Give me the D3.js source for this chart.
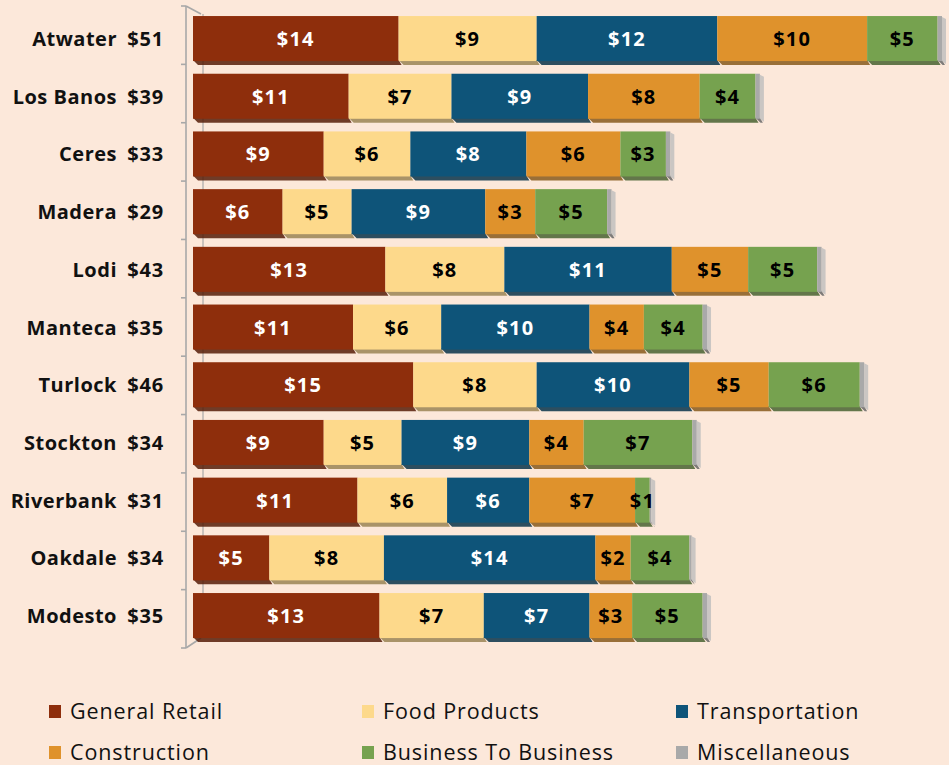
<!DOCTYPE html>
<html>
<head>
<meta charset="utf-8">
<script src="https://cdn.jsdelivr.net/npm/d3@7"></script>
<style>
  html, body { margin: 0; padding: 0; background: #FCE8DA; }
  svg { display: block; }
</style>
</head>
<body>
<svg id="chart" width="949" height="765"></svg>
<script>
const cities = ["Atwater","Los Banos","Ceres","Madera","Lodi","Manteca","Turlock","Stockton","Riverbank","Oakdale","Modesto"];
const totals = [51,39,33,29,43,35,46,34,31,34,35];
const seriesNames = ["General Retail","Food Products","Transportation","Construction","Business To Business","Miscellaneous"];
const generalRetail  = [14.0,10.6,8.9,6.1,13.1,10.9,15.0,8.9,11.2,5.2,12.7];
const foodProducts   = [9.4,7.0,5.9,4.7,8.1,6.0,8.4,5.3,6.1,7.8,7.1];
const transportation = [12.3,9.3,7.9,9.1,11.4,10.1,10.4,8.7,5.6,14.4,7.2];
const construction   = [10.2,7.6,6.4,3.4,5.2,3.7,5.4,3.7,7.2,2.4,2.9];
const businessToBusiness = [4.8,3.8,3.1,4.9,4.7,4.0,6.2,7.4,1.0,4.0,4.8];
const miscellaneous  = [0.3,0.3,0.3,0.3,0.3,0.3,0.3,0.3,0.1,0.15,0.3];

const colors = ["#8E2E0C","#FDD98B","#0E5479","#DF922C","#76A24F","#A9A9A9"];
const labelColors = ["#FFFFFF","#000000","#FFFFFF","#000000","#000000",null];

const seriesValues = [generalRetail, foodProducts, transportation, construction, businessToBusiness, miscellaneous];
const table = cities.map((c, i) => {
  const row = { city: c, total: totals[i] };
  seriesNames.forEach((s, k) => row[s] = seriesValues[k][i]);
  return row;
});
const stacked = d3.stack().keys(seriesNames)(table);

const svg = d3.select("#chart");
const x = d3.scaleLinear().domain([0, 51]).range([193, 942]);
const y = d3.scaleBand().domain(cities).range([10.7, 645.4]).paddingInner(0.185).paddingOuter(0.0925);
const fmt = v => "$" + d3.format(".0f")(v);

// 3D axis walls
const axisG = svg.append("g").attr("fill", "none").attr("stroke", "#A8A8A8").attr("stroke-width", 1.6);
axisG.append("path").attr("d", "M186,6 L186,648");
axisG.append("path").attr("d", "M186,6 L201,14 M186,648 L201,638");
axisG.append("path").attr("d", "M203,14 L203,638").attr("stroke-width", 1.2);
const tickY = d3.range(cities.length + 1).map(i => 6 + i * (642 / cities.length));
axisG.selectAll("line.tick").data(tickY).join("line")
  .attr("x1", 181).attr("x2", 186).attr("y1", d => d).attr("y2", d => d);

// bars
const barG = svg.append("g");
stacked.forEach((layer, k) => {
  const col = colors[k];
  const dark = d3.color(col).darker(1.4);
  const g = barG.append("g");
  layer.forEach((d, i) => {
    const x0 = x(d[0]), x1 = x(d[1]);
    const yt = y(cities[i]), bh = y.bandwidth();
    g.append("path")
      .attr("d", `M${x0},${yt + bh - 3} L${x1},${yt + bh - 3} L${x1 + 3},${yt + bh + 2} L${x0 + 5},${yt + bh + 2} Z`)
      .attr("fill", dark).attr("opacity", 0.85);
    g.append("rect")
      .attr("x", x0).attr("y", yt)
      .attr("width", Math.max(0, x1 - x0)).attr("height", bh - 2)
      .attr("fill", col);
  });
});
barG.selectAll("path.side").data(table).join("path")
  .attr("d", (d, i) => {
    const xe = x(stacked[stacked.length - 1][i][1]);
    const yt = y(d.city), bh = y.bandwidth();
    return `M${xe},${yt + 1} L${xe + 4},${yt + 3} L${xe + 4},${yt + bh + 1} L${xe},${yt + bh - 2} Z`;
  })
  .attr("fill", "#BDBDBD").attr("opacity", 0.8);

// segment labels
stacked.forEach((layer, k) => {
  if (!labelColors[k]) return;
  barG.append("g").selectAll("text").data(layer).join("text")
    .attr("x", d => (x(d[0]) + x(d[1])) / 2)
    .attr("y", (d, i) => y(cities[i]) + y.bandwidth() / 2 + 6.5)
    .attr("text-anchor", "middle")
    .attr("font-family", "'Open Sans', sans-serif")
    .attr("font-weight", 700)
    .attr("font-size", 20)
    .attr("letter-spacing", 1.2)
    .attr("fill", labelColors[k])
    .text(d => fmt(d[1] - d[0]));
});

// category labels
const catG = svg.append("g")
  .attr("font-family", "'Open Sans', sans-serif").attr("font-weight", 700)
  .attr("font-size", 20).attr("fill", "#111");
catG.selectAll("text.city").data(table).join("text")
  .attr("x", 117).attr("y", d => y(d.city) + y.bandwidth() / 2 + 6.5)
  .attr("text-anchor", "end").attr("letter-spacing", 0.5).text(d => d.city);
catG.selectAll("text.tot").data(table).join("text")
  .attr("x", 164).attr("y", d => y(d.city) + y.bandwidth() / 2 + 6.5)
  .attr("text-anchor", "end").attr("letter-spacing", 0.8).text(d => fmt(d.total));

// legend
const legendX = [49, 362, 676];
const legendY = [712, 753];
const leg = svg.append("g").selectAll("g").data(seriesNames).join("g")
  .attr("transform", (d, i) => `translate(${legendX[i % 3]},${legendY[Math.floor(i / 3)]})`);
leg.append("rect").attr("x", 0).attr("y", -7).attr("width", 12).attr("height", 13)
  .attr("fill", (d, i) => colors[i]);
leg.append("text").attr("x", 21).attr("y", 7)
  .attr("font-family", "'Open Sans', sans-serif").attr("font-size", 21.5)
  .attr("letter-spacing", 0.9)
  .attr("fill", "#111").text(d => d);
</script>
</body>
</html>
